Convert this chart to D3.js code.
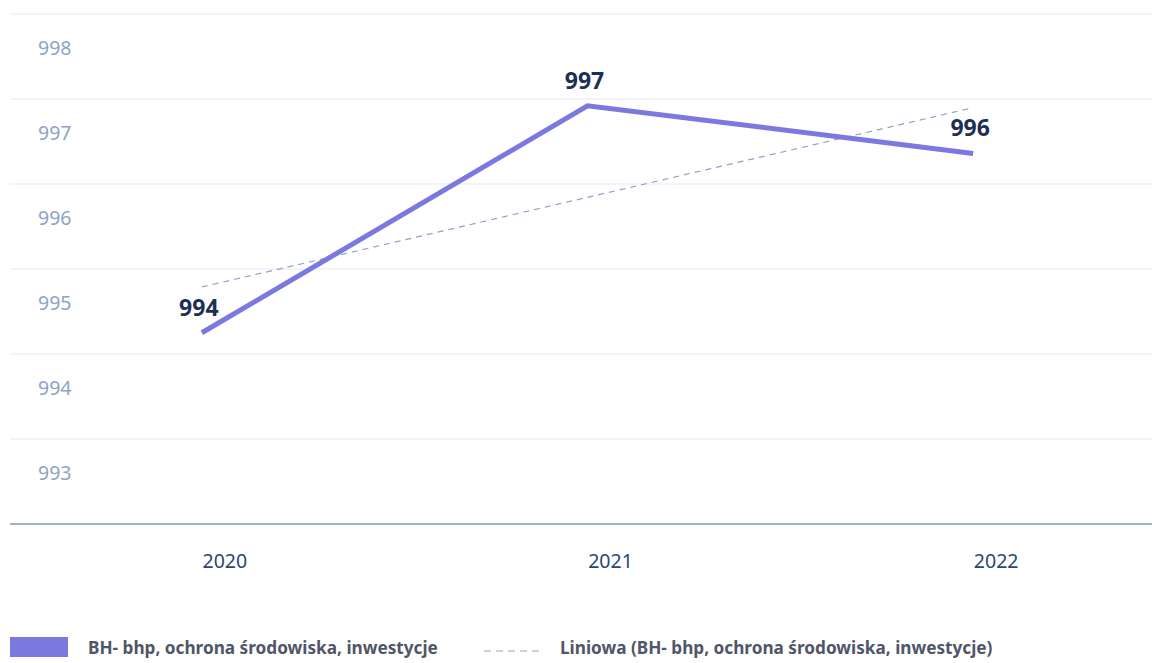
<!DOCTYPE html>
<html>
<head>
<meta charset="utf-8">
<script src="https://cdn.jsdelivr.net/npm/d3@7/dist/d3.min.js"></script>
<style>
  html, body { margin: 0; padding: 0; background: #fff; }
  svg { display: block; font-family: "Noto Sans", "Open Sans", sans-serif; }
</style>
</head>
<body>
<svg id="chart" width="1152" height="663"></svg>
<script>
// Years on the category axis
const years = ["2020", "2021", "2022"];
// Series values (BH- bhp, ochrona środowiska, inwestycje)
const values = [994.25, 996.92, 996.36];
// Value axis ticks
const yTicks = [992, 993, 994, 995, 996, 997, 998];
// Legend entries
const legendLabels = [
  "BH- bhp, ochrona środowiska, inwestycje",
  "Liniowa (BH- bhp, ochrona środowiska, inwestycje)"
];

const svg = d3.select("#chart");
const W = 1152;

const x = d3.scaleBand().domain(years).range([9, 1166]).padding(0);
const y = d3.scaleLinear().domain([992, 998]).range([524, 14]);
const cx = d => x(d) + x.bandwidth() / 2;

// Horizontal gridlines
svg.append("g")
  .selectAll("line")
  .data(yTicks.filter(t => t > 992))
  .join("line")
  .attr("x1", 10).attr("x2", W)
  .attr("y1", d => y(d)).attr("y2", d => y(d))
  .attr("stroke", "#eef0f5").attr("stroke-width", 1.3);

// Value axis labels, set below their gridlines
const yAxis = d3.axisLeft(y).tickValues(yTicks.filter(t => t > 992)).tickSize(0).tickFormat(d3.format("d"));
const gy = svg.append("g").attr("transform", "translate(38,0)").call(yAxis);
gy.select(".domain").remove();
gy.selectAll("text")
  .attr("text-anchor", "start")
  .attr("x", 0)
  .attr("dy", 40)
  .attr("fill", "#8ea3c6")
  .attr("font-size", 19.5)
  .attr("font-family", "Noto Sans, sans-serif");

// Category axis
const xAxis = d3.axisBottom(x).tickSize(0).tickPadding(0);
const gx = svg.append("g").attr("transform", `translate(0,${y(992)})`).call(xAxis);
gx.select(".domain").remove();
gx.append("line").attr("x1", 10).attr("x2", W).attr("y1", 0).attr("y2", 0)
  .attr("stroke", "#8197bd").attr("stroke-width", 1.3);
gx.selectAll(".tick text")
  .attr("dx", 23)
  .attr("y", 30)
  .attr("fill", "#2a4674")
  .attr("font-size", 19.5)
  .attr("font-family", "Noto Sans, sans-serif");

// Linear trend (least squares over category index)
const xs = values.map((_, i) => i);
const mx = d3.mean(xs), my = d3.mean(values);
const slope = d3.sum(xs, (xi, i) => (xi - mx) * (values[i] - my)) / d3.sum(xs, xi => (xi - mx) ** 2);
const intercept = my - slope * mx;
const trend = years.map((yr, i) => ({ yr, v: intercept + slope * i }));

svg.append("path")
  .datum(trend)
  .attr("fill", "none")
  .attr("stroke", "#8ea3c6")
  .attr("stroke-width", 1.2)
  .attr("stroke-dasharray", "6,5")
  .attr("d", d3.line().x(d => cx(d.yr)).y(d => y(d.v)));

// Main series line
const data = years.map((yr, i) => ({ yr, v: values[i] }));
svg.append("path")
  .datum(data)
  .attr("fill", "none")
  .attr("stroke", "#7b78e0")
  .attr("stroke-width", 5)
  .attr("stroke-linejoin", "miter")
  .attr("d", d3.line().x(d => cx(d.yr)).y(d => y(d.v)));

// Data labels
svg.append("g")
  .selectAll("text")
  .data(data)
  .join("text")
  .attr("x", d => cx(d.yr) - 3)
  .attr("y", d => y(d.v) - 17)
  .attr("text-anchor", "middle")
  .attr("fill", "#1d2f52")
  .attr("font-size", 23)
  .attr("font-weight", 700)
  .attr("font-family", "Noto Sans, sans-serif")
  .text(d => d3.format(".0f")(d.v));

// Legend
const lg = svg.append("g").attr("font-family", "Noto Sans, sans-serif");
lg.append("rect").attr("x", 10).attr("y", 637).attr("width", 58).attr("height", 20).attr("fill", "#7b78e0");
lg.append("text").attr("x", 88).attr("y", 654)
  .attr("fill", "#4f5668").attr("font-size", 17.2).attr("font-weight", 700)
  .text(legendLabels[0]);
lg.append("line").attr("x1", 484).attr("x2", 543).attr("y1", 651).attr("y2", 651)
  .attr("stroke", "#8ea3c6").attr("stroke-width", 1.2).attr("stroke-dasharray", "7,5");
lg.append("text").attr("x", 560).attr("y", 654)
  .attr("fill", "#4f5668").attr("font-size", 17.2).attr("font-weight", 700)
  .text(legendLabels[1]);
</script>
</body>
</html>
